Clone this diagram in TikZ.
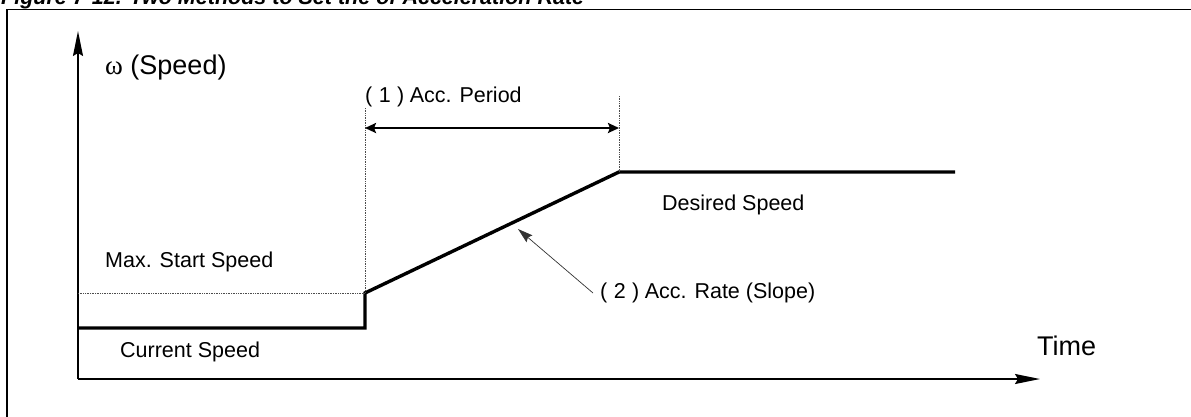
\documentclass[tikz,border=0pt]{standalone}
\usepackage{fontspec}
\setmainfont{Liberation Sans}
\newfontfamily\greekfont{Liberation Serif}
\usetikzlibrary{arrows.meta}
\begin{document}
\begin{tikzpicture}[x=1pt,y=-1pt,
  lbl/.style={inner sep=0pt,anchor=west,font=\fontsize{21.5}{24}\selectfont},
  biglbl/.style={inner sep=0pt,anchor=west,font=\fontsize{27}{30}\selectfont},
  axis/.style={line width=1.6pt,-{Stealth[length=25pt,width=10pt,inset=3pt]}},
  profile/.style={line width=3.4pt,line join=miter},
  guide/.style={line width=0.7pt,densely dotted,black!70},
  period/.style={line width=2.6pt,{Stealth[length=11pt,width=10pt,inset=2pt]}-{Stealth[length=11pt,width=10pt,inset=2pt]}},
  pointer/.style={line width=0.7pt,black!80,-{Stealth[length=15pt,width=9pt,inset=2pt]}}]
\useasboundingbox (0,0) rectangle (1191,416);
\clip (0,0) rectangle (1191,416);
% title (cut off at top)
\node[inner sep=0pt,anchor=base west,font=\fontsize{21.5}{24}\selectfont\bfseries\itshape] (title) at (1,4) {Figure 7-12. Two Methods to Set the of Acceleration Rate};
% frame
\draw[line width=1.6pt] (7,430) -- (7,9.5) -- (1200,9.5);
% axes
\coordinate (O) at (78,379);
\coordinate (ytop) at (78,31);
\coordinate (xend) at (1040,379);
\draw[axis] (O) -- (ytop);
\draw[axis] (O) -- (xend);
% speed profile
\coordinate (c0) at (78,328);
\coordinate (c1) at (365,328);
\coordinate (c2) at (365,293);
\coordinate (c3) at (619,172);
\coordinate (c4) at (955,172);
\draw[profile] (c0) -- (c1) -- (c2) -- (c3) -- (c4);
% guides
\coordinate (g0) at (78,293);
\coordinate (g1) at (365,108);
\coordinate (g2) at (619,96);
\draw[guide] (g0) -- (c2);
\draw[guide] (g1) -- (c2);
\draw[guide] (g2) -- (c3);
% acc period arrow
\coordinate (p0) at (365,128);
\coordinate (p1) at (619,128);
\draw[period] (p0) -- (p1);
% labels
\node[biglbl] (speed) at (105,68) {{\greekfont ω} (Speed)};
\node[lbl] (accp) at (365,97) {(\hspace{0.3em}1\hspace{0.3em})\hspace{0.25em}Acc. Period};
\node[lbl] (maxs) at (105,262) {Max. Start Speed};
\node[lbl] (curs) at (120,352) {Current Speed};
\node[lbl] (dess) at (662,205) {Desired Speed};
\node[lbl] (accr) at (600,293) {(\hspace{0.3em}2\hspace{0.3em})\hspace{0.25em}Acc. Rate (Slope)};
\node[biglbl] (time) at (1037,346) {Time};
% pointer
\coordinate (tip) at (518,229);
\draw[pointer] (accr.west) ++(-7,0) -- (tip);
\end{tikzpicture}
\end{document}
